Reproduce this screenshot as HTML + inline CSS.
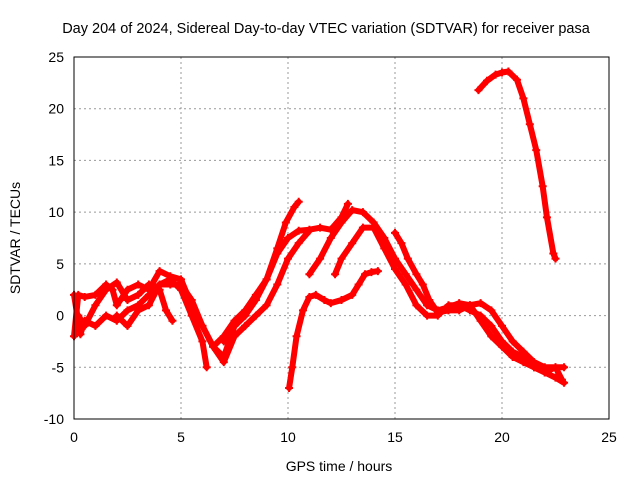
<!DOCTYPE html>
<html><head><meta charset="utf-8"><style>
body{margin:0;background:#fff}
svg{display:block;font-family:"Liberation Sans",sans-serif}
</style></head><body>
<svg id="c" width="640" height="480">
<text x="326" y="33" text-anchor="middle" font-size="14.5">Day 204 of 2024, Sidereal Day-to-day VTEC variation (SDTVAR) for receiver pasa</text>
<text x="339" y="471" text-anchor="middle" font-size="14">GPS time / hours</text>
<text transform="translate(20,238) rotate(-90)" text-anchor="middle" font-size="14">SDTVAR / TECUs</text>
<g id="grid"></g><g id="ticks"></g><g id="series"></g>
<rect x="74" y="57" width="535" height="362" fill="none" stroke="#000" stroke-width="1"/>
</svg>
<script>
const xTicks=[0,5,10,15,20,25];
const yTicks=[-10,-5,0,5,10,15,20,25];
const trackA=[[18.9,21.8],[19.3,22.7],[19.7,23.3],[20,23.5],[20.3,23.6],[20.7,22.8],[21,21],[21.3,18.5],[21.6,16],[21.9,12.5],[22.1,9.5],[22.4,6],[22.5,5.5]];
const trackB=[[10.05,-7],[10.2,-5],[10.4,-2],[10.7,0.5],[11,1.8],[11.3,2],[11.7,1.5],[12,1.2],[12.5,1.5],[13,2],[13.3,3],[13.6,4],[13.9,4.2],[14.2,4.3]];
const trackC=[[7,-2.5],[7.5,-1],[8,0],[8.5,1.5],[9,3.5],[9.5,6.5],[9.9,9],[10.3,10.5],[10.5,11]];
const trackD=[[6.5,-3],[7,-2],[7.5,-0.5],[8,0.5],[8.5,2],[9,3.5],[9.5,6],[10,7.5],[10.5,8.2],[11,8.3],[11.5,8.5],[12,8.3],[12.5,9.5],[12.8,10.8]];
const trackE=[[11,4],[11.5,5.5],[12,7.5],[12.5,9],[13,10.2],[13.5,10],[14,9],[14.5,7.5],[15,5.5],[15.5,4],[16,2.5],[16.5,1],[17,0.5],[17.5,0.8],[18,1.2],[18.5,1],[19,1.2],[19.5,0.5],[20,-1],[20.5,-2.5],[21,-3.5],[21.5,-4.5],[22,-5],[22.5,-5],[22.8,-6.2]];
const trackF=[[12.2,4],[12.5,5.5],[13,7],[13.5,8.5],[14,8.5],[14.5,6.5],[15,4.5],[15.5,3],[16,1],[16.5,0],[17,0],[17.5,1],[18,1],[18.5,0.5],[19,0],[19.5,-1],[20,-2.5],[20.5,-3.5],[21,-4],[21.5,-5],[22,-5.5],[22.5,-5],[22.9,-5]];
const trackG=[[15,8],[15.3,7],[15.6,5.5],[16,4],[16.3,3],[16.6,1.5],[17,0.3],[17.5,0.5],[18,0.5],[18.5,1],[19,-0.5],[19.5,-2],[20,-3],[20.5,-4],[21,-4.5],[21.5,-5],[22,-5.5],[22.5,-6],[22.9,-6.5]];
const trackL1=[[0,2],[0.3,-1.8],[0.5,-0.5],[1,-1],[1.5,0],[2,-0.5],[2.5,0.5],[3,1],[3.5,2],[4,3],[4.5,3.5],[5,2.5],[5.5,0],[6,-2.5],[6.2,-5]];
const trackL2=[[0,-2],[0.2,2],[0.5,1.8],[1,2],[1.5,3],[1.8,2.5],[2,1],[2.5,2.5],[3,3],[3.5,2.5],[4,4.3],[4.5,3.8],[5,3.5],[5.5,1],[6,-1],[6.5,-3],[7,-4],[7.5,-1],[8,0]];
const trackL3=[[0.2,0],[0.5,-1],[1,1],[1.5,2.5],[2,3.2],[2.5,1.5],[3,2],[3.5,3],[4,2.5],[4.3,0.5],[4.6,-0.5]];
const trackL4=[[2,0],[2.5,-1],[3,0.5],[3.5,1],[4,3],[4.5,3],[5,3],[5.5,1.5],[6,-1],[6.5,-3],[7,-4.5],[7.5,-2],[8,-1],[8.5,0],[9,1],[9.5,3],[10,5.5],[10.5,7],[11,8.2]];
const tracks=[trackA,trackB,trackC,trackD,trackE,trackF,trackG,trackL1,trackL2,trackL3,trackL4];
const X=v=>74+v*535/25, Y=v=>419-(v+10)*362/35;
const NS="http://www.w3.org/2000/svg";
const mk=(p,t,a)=>{const e=document.createElementNS(NS,t);for(const k in a)e.setAttribute(k,a[k]);p.appendChild(e);return e;};
const g=document.getElementById('grid'),tk=document.getElementById('ticks'),s=document.getElementById('series');
xTicks.forEach(v=>{
 if(v>0&&v<25){const l=mk(g,'line',{x1:X(v),x2:X(v),y1:57,y2:419,stroke:'#999','stroke-dasharray':'2,3'});
 
 }
 const t=mk(tk,'text',{x:X(v),y:442,'text-anchor':'middle','font-size':14});t.textContent=v;
 
 
});
yTicks.forEach(v=>{
 if(v>-10&&v<25){const l=mk(g,'line',{x1:74,x2:609,y1:Y(v),y2:Y(v),stroke:'#999','stroke-dasharray':'2,3'});
 
 }
 const t=mk(tk,'text',{x:64,y:Y(v)+5,'text-anchor':'end','font-size':14});t.textContent=v;
 
 
});
tracks.forEach(tr=>{
 const pl=mk(s,'polyline',{points:tr.map(p=>X(p[0])+','+Y(p[1])).join(' '),fill:'none',stroke:'#f00','stroke-width':6,'stroke-linejoin':'round','stroke-linecap':'round'});
 
 
 tr.forEach(p=>{const m=mk(s,'path',{d:`M${X(p[0])-4},${Y(p[1])}h8M${X(p[0])},${Y(p[1])-4}v8`,stroke:'#f00','stroke-width':2});
 
 });
});
</script>
</body></html>
